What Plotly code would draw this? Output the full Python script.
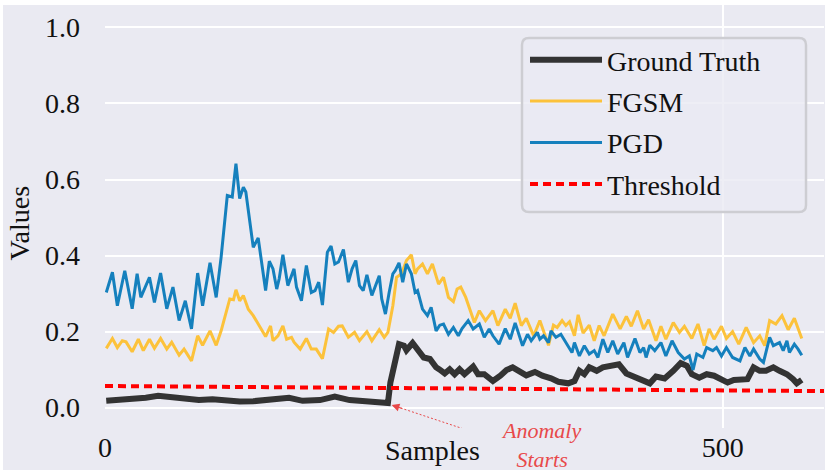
import plotly.graph_objects as go

# ---------------- data ----------------
GT_X = [1, 12, 22, 33, 43, 52, 63, 76, 87, 98, 109, 120, 130, 141, 149, 160, 174, 186, 198, 211,
        222, 229, 231, 234, 238, 242, 244, 249, 253, 258, 263, 268, 271, 275, 279, 283, 287, 291,
        298, 302, 307, 314, 320, 325, 330, 337, 341, 348, 354, 361, 367, 375, 380, 384, 388, 392,
        398, 403, 408, 416, 422, 429, 436, 441, 446, 453, 460, 466, 471, 475, 481, 487, 493, 499,
        504, 509, 515, 520, 525, 530, 535, 541, 546, 552, 557, 560, 564]
GT_Y = [0.018, 0.020, 0.024, 0.026, 0.031, 0.028, 0.022, 0.020, 0.022, 0.018, 0.016, 0.017, 0.020,
        0.024, 0.026, 0.018, 0.020, 0.029, 0.020, 0.017, 0.015, 0.012, 0.066, 0.110, 0.167, 0.163,
        0.151, 0.170, 0.154, 0.132, 0.128, 0.106, 0.100, 0.090, 0.101, 0.088, 0.101, 0.088, 0.108,
        0.088, 0.088, 0.070, 0.084, 0.099, 0.106, 0.092, 0.085, 0.094, 0.084, 0.077, 0.068, 0.064,
        0.070, 0.097, 0.088, 0.106, 0.097, 0.106, 0.108, 0.114, 0.090, 0.079, 0.070, 0.064, 0.082,
        0.077, 0.097, 0.117, 0.110, 0.088, 0.079, 0.088, 0.084, 0.075, 0.066, 0.073, 0.075, 0.075,
        0.106, 0.097, 0.097, 0.106, 0.097, 0.088, 0.075, 0.064, 0.073]

FGSM_X = [1, 6, 10, 14, 17, 22, 27, 31, 36, 40, 45, 50, 54, 60, 64, 70, 75, 79, 85, 90, 94, 98,
          101, 104, 106, 109, 112, 116, 120, 125, 130, 134, 136, 140, 144, 147, 151, 153, 158, 163,
          167, 171, 176, 181, 185, 189, 192, 197, 202, 206, 212, 216, 222, 226, 229, 233, 236, 240,
          244, 248, 251, 253, 257, 261, 265, 270, 274, 278, 282, 285, 288, 292, 299, 303, 308, 314,
          318, 324, 328, 332, 337, 341, 347, 352, 356, 359, 363, 366, 370, 373, 376, 380, 383, 387,
          392, 396, 400, 404, 411, 417, 422, 426, 431, 436, 440, 446, 450, 454, 460, 465, 469, 475,
          480, 485, 489, 493, 499, 503, 508, 513, 519, 525, 530, 534, 538, 543, 548, 553, 558, 564]
FGSM_Y = [0.156, 0.182, 0.158, 0.176, 0.173, 0.147, 0.180, 0.150, 0.180, 0.156, 0.182, 0.154,
          0.172, 0.138, 0.154, 0.123, 0.189, 0.164, 0.202, 0.164, 0.202, 0.251, 0.286, 0.284,
          0.310, 0.281, 0.295, 0.259, 0.242, 0.215, 0.187, 0.215, 0.176, 0.189, 0.215, 0.180,
          0.185, 0.172, 0.154, 0.182, 0.154, 0.154, 0.129, 0.207, 0.198, 0.214, 0.215, 0.185,
          0.198, 0.176, 0.200, 0.176, 0.205, 0.185, 0.198, 0.268, 0.343, 0.352, 0.387, 0.402,
          0.352, 0.365, 0.378, 0.352, 0.378, 0.325, 0.343, 0.290, 0.279, 0.312, 0.317, 0.290,
          0.224, 0.255, 0.229, 0.255, 0.216, 0.259, 0.235, 0.275, 0.216, 0.235, 0.189, 0.229,
          0.193, 0.164, 0.217, 0.211, 0.229, 0.216, 0.226, 0.189, 0.244, 0.196, 0.217, 0.176,
          0.216, 0.189, 0.246, 0.207, 0.240, 0.214, 0.255, 0.207, 0.231, 0.176, 0.214, 0.180,
          0.224, 0.198, 0.214, 0.182, 0.220, 0.163, 0.207, 0.180, 0.214, 0.182, 0.200, 0.167,
          0.211, 0.171, 0.189, 0.163, 0.229, 0.220, 0.242, 0.205, 0.235, 0.182]

PGD_X = [1, 6, 10, 16, 22, 26, 29, 36, 40, 45, 50, 55, 60, 65, 70, 75, 79, 85, 90, 94, 99, 103,
         106, 109, 112, 114, 120, 124, 130, 133, 136, 139, 141, 144, 148, 151, 153, 155, 159, 163,
         167, 170, 173, 176, 180, 183, 186, 189, 193, 197, 200, 203, 206, 209, 212, 216, 218, 222,
         224, 227, 230, 233, 235, 238, 241, 244, 248, 251, 253, 257, 261, 264, 268, 271, 274, 278,
         282, 286, 289, 294, 298, 303, 307, 311, 314, 319, 324, 328, 332, 335, 338, 342, 345, 350,
         352, 355, 359, 361, 365, 369, 373, 378, 380, 384, 388, 392, 396, 399, 403, 407, 411, 415,
         420, 423, 429, 433, 436, 438, 441, 445, 450, 454, 459, 464, 469, 473, 476, 479, 484, 487,
         492, 495, 499, 503, 508, 514, 518, 522, 525, 530, 533, 538, 541, 546, 549, 552, 554, 558,
         561, 564]
PGD_Y = [0.303, 0.356, 0.268, 0.360, 0.260, 0.352, 0.290, 0.343, 0.277, 0.354, 0.260, 0.317,
         0.229, 0.281, 0.207, 0.354, 0.268, 0.381, 0.290, 0.396, 0.558, 0.554, 0.642, 0.550,
         0.580, 0.567, 0.422, 0.446, 0.308, 0.385, 0.365, 0.312, 0.339, 0.402, 0.321, 0.347,
         0.365, 0.317, 0.281, 0.374, 0.303, 0.308, 0.330, 0.270, 0.409, 0.425, 0.378, 0.383,
         0.416, 0.330, 0.365, 0.387, 0.321, 0.308, 0.349, 0.295, 0.312, 0.347, 0.286, 0.246,
         0.303, 0.352, 0.361, 0.381, 0.330, 0.378, 0.352, 0.303, 0.308, 0.259, 0.242, 0.264,
         0.202, 0.217, 0.220, 0.193, 0.211, 0.189, 0.208, 0.229, 0.207, 0.220, 0.185, 0.207,
         0.189, 0.167, 0.208, 0.180, 0.223, 0.193, 0.163, 0.193, 0.176, 0.198, 0.180, 0.189,
         0.171, 0.202, 0.185, 0.193, 0.171, 0.145, 0.171, 0.136, 0.163, 0.141, 0.150, 0.132,
         0.180, 0.145, 0.176, 0.141, 0.171, 0.132, 0.182, 0.145, 0.158, 0.132, 0.164, 0.150,
         0.171, 0.136, 0.176, 0.145, 0.128, 0.136, 0.099, 0.141, 0.132, 0.158, 0.150, 0.158,
         0.136, 0.158, 0.132, 0.123, 0.158, 0.136, 0.154, 0.128, 0.119, 0.185, 0.163, 0.171,
         0.150, 0.176, 0.145, 0.167, 0.154, 0.138]

THRESH_X = [0, 582]
THRESH_Y = [0.057, 0.0435]

ANOMALY_START = (232, 0.007)      # where the arrow points
ANOMALY_TAIL = (333, -0.102)      # arrow tail (dot)
ANOMALY_TEXT_X = 353              # label centre (sample index)

X_RANGE = [0, 582]
Y_RANGE = [-0.0535, 1.059]
X_TICKS = [0, 500]
Y_TICKS = [0.0, 0.2, 0.4, 0.6, 0.8, 1.0]

# ---------------- style ----------------
FONT = "Liberation Serif, Times New Roman, DejaVu Serif, serif"
BG = "#EAEAF2"
C_GT = "#333333"
C_FGSM = "#FCC23B"
C_PGD = "#1580BD"
C_TH = "#FF0000"
C_ANN = "#E8494A"
TXT = "#111111"

W, H = 830, 474
ML, MR, MT, MB = 105, 6, 5, 46
PW, PH = W - ML - MR, H - MT - MB


def px_x(p):
    return (p - ML) / PW


def px_y(p):
    return (H - MB - p) / PH


fig = go.Figure()
fig.add_trace(go.Scatter(x=GT_X, y=GT_Y, mode="lines", name="Ground Truth",
                         line=dict(color=C_GT, width=6), legendgroup="a"))
fig.add_trace(go.Scatter(x=FGSM_X, y=FGSM_Y, mode="lines", name="FGSM",
                         line=dict(color=C_FGSM, width=3), legendgroup="b"))
fig.add_trace(go.Scatter(x=PGD_X, y=PGD_Y, mode="lines", name="PGD",
                         line=dict(color=C_PGD, width=3), legendgroup="c"))
fig.add_trace(go.Scatter(x=THRESH_X, y=THRESH_Y, mode="lines", name="Threshold",
                         line=dict(color=C_TH, width=4, dash="8px,5px"), legendgroup="d"))

# dotted arrow shaft with dot at its tail
fig.add_trace(go.Scatter(x=[ANOMALY_TAIL[0], ANOMALY_START[0]],
                         y=[ANOMALY_TAIL[1], ANOMALY_START[1]],
                         mode="lines+markers", showlegend=False, cliponaxis=False,
                         line=dict(color=C_ANN, width=1, dash="2px,2px"),
                         marker=dict(size=[5, 0], color=C_ANN), hoverinfo="skip"))

fig.add_annotation(x=ANOMALY_START[0], y=ANOMALY_START[1], text="", showarrow=True,
                   ax=12, ay=4, arrowhead=2, arrowsize=1.3, arrowwidth=1.2,
                   arrowcolor=C_ANN)
fig.add_annotation(x=ANOMALY_TEXT_X, xref="x", yref="paper", y=px_y(445),
                   text="<i>Anomaly</i><br><i>Starts</i>", showarrow=False,
                   yanchor="middle", font=dict(family=FONT, size=22, color=C_ANN),
                   align="center")

# axis titles
fig.add_annotation(xref="paper", yref="paper", x=px_x(432), y=px_y(450), yanchor="middle",
                   text="Samples", showarrow=False,
                   font=dict(family=FONT, size=28, color=TXT))
fig.add_annotation(xref="paper", yref="paper", x=px_x(19), y=px_y(223.5),
                   xanchor="center", yanchor="middle", textangle=-90, text="Values",
                   showarrow=False, font=dict(family=FONT, size=28, color=TXT))

# legend frame (rounded, semi-transparent)
x0, x1, y0, y1, r = px_x(522), px_x(806), px_y(212), px_y(38), 7
rx, ry = r / PW, r / PH
path = (f"M {x0+rx},{y0} L {x1-rx},{y0} Q {x1},{y0} {x1},{y0+ry} L {x1},{y1-ry} "
        f"Q {x1},{y1} {x1-rx},{y1} L {x0+rx},{y1} Q {x0},{y1} {x0},{y1-ry} "
        f"L {x0},{y0+ry} Q {x0},{y0} {x0+rx},{y0} Z")
fig.add_shape(type="path", path=path, xref="paper", yref="paper", layer="above",
              fillcolor="rgba(234,234,242,0.8)", line=dict(color="#CDCDD2", width=2.5))

fig.update_layout(
    width=W, height=H,
    margin=dict(l=ML, r=MR, t=MT, b=MB, pad=0, autoexpand=False),
    paper_bgcolor=BG, plot_bgcolor=BG,
    font=dict(family=FONT, size=28, color=TXT),
    showlegend=True,
    legend=dict(x=px_x(525), y=px_y(35), xanchor="left", yanchor="top",
                bgcolor="rgba(0,0,0,0)", borderwidth=0,
                font=dict(family=FONT, size=28, color=TXT),
                itemwidth=72, tracegroupgap=2),
)
fig.update_xaxes(range=X_RANGE, tickvals=X_TICKS, showgrid=True, gridcolor="white",
                 gridwidth=2, zeroline=False, showline=False, ticks="", automargin=False,
                 ticklabelstandoff=0, tickfont=dict(family=FONT, size=28, color=TXT))
fig.update_yaxes(range=Y_RANGE, tickvals=Y_TICKS, tickformat=".1f", showgrid=True,
                 gridcolor="white", gridwidth=2, zeroline=False, showline=False,
                 ticks="", automargin=False, ticklabelstandoff=24,
                 tickfont=dict(family=FONT, size=28, color=TXT))

# page tweaks: no body margin, thin white frame around the figure like the reference
POST = (
    "document.body.style.margin='0';"
    "document.body.insertAdjacentHTML('beforeend',"
    "'<div style=\"position:absolute;left:0;top:0;width:830px;height:474px;"
    "box-sizing:border-box;border-style:solid;border-color:white;"
    "border-width:5px 5px 4px 3px;pointer-events:none;\"></div>');"
)
fig.write_html("out.html", config={"displayModeBar": False}, post_script=POST)
